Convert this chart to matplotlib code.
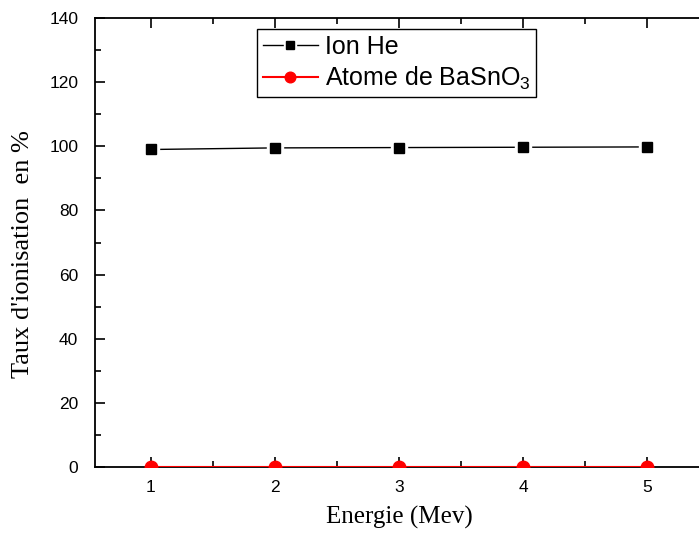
import matplotlib.pyplot as plt
from matplotlib.ticker import MultipleLocator

# data
energie = [1, 2, 3, 4, 5]
ion_he = [99.0, 99.5, 99.6, 99.7, 99.8]
atome_basno3 = [0, 0, 0, 0, 0]

plt.rcParams['mathtext.default'] = 'regular'
plt.rcParams['font.family'] = ['Liberation Sans', 'DejaVu Sans']

fig = plt.figure(figsize=(6.99, 5.35), dpi=100)
ax = fig.add_axes([95 / 699, 68 / 535, 608 / 699, 449 / 535])

# black line with small gaps around the squares (white halo under each marker)
he_line, = ax.plot(energie, ion_he, color='black', linewidth=1, zorder=2)
he_gap, = ax.plot(energie, ion_he, linestyle='none', marker='s', markersize=11,
                  color='white', zorder=2.5)
he_mark, = ax.plot(energie, ion_he, linestyle='none', marker='s', markersize=7,
                   color='black', zorder=2.6)
at_line, = ax.plot(energie, atome_basno3, color='red', linewidth=1.5, marker='o',
                   markersize=9, zorder=3)

ax.set_xlim(0.55, 5.45)
ax.set_ylim(0, 140)
ax.xaxis.set_major_locator(MultipleLocator(1))
ax.xaxis.set_minor_locator(MultipleLocator(0.5))
ax.yaxis.set_major_locator(MultipleLocator(20))
ax.yaxis.set_minor_locator(MultipleLocator(10))

ax.tick_params(which='both', direction='in', top=True, right=False,
               width=1.2, labelsize=12.5)
ax.tick_params(which='major', length=7.5)
ax.tick_params(which='minor', length=4.5)
ax.tick_params(axis='y', pad=12)
ax.tick_params(axis='x', pad=9)
for s in ax.spines.values():
    s.set_linewidth(1.3)

ax.set_xlabel('Energie (Mev)', family='Liberation Serif', fontsize=18, labelpad=8)
ax.set_ylabel("Taux d'ionisation  en %", family='Liberation Serif', fontsize=19)
ax.yaxis.set_label_coords(-0.1, 0.475)

leg = ax.legend([(he_line, he_gap, he_mark), at_line],
                ['Ion He', 'Atome de BaSnO$_3$'],
                loc='upper left', bbox_to_anchor=(257 / 699, 1 - 29 / 535),
                bbox_transform=fig.transFigure, fontsize=18, fancybox=False,
                framealpha=1, edgecolor='black', handlelength=2.2,
                borderpad=0.22, labelspacing=0.25, handletextpad=0.3,
                borderaxespad=0, markerscale=0.85)
leg.get_frame().set_linewidth(1)

fig.savefig('out.png', dpi=100)
